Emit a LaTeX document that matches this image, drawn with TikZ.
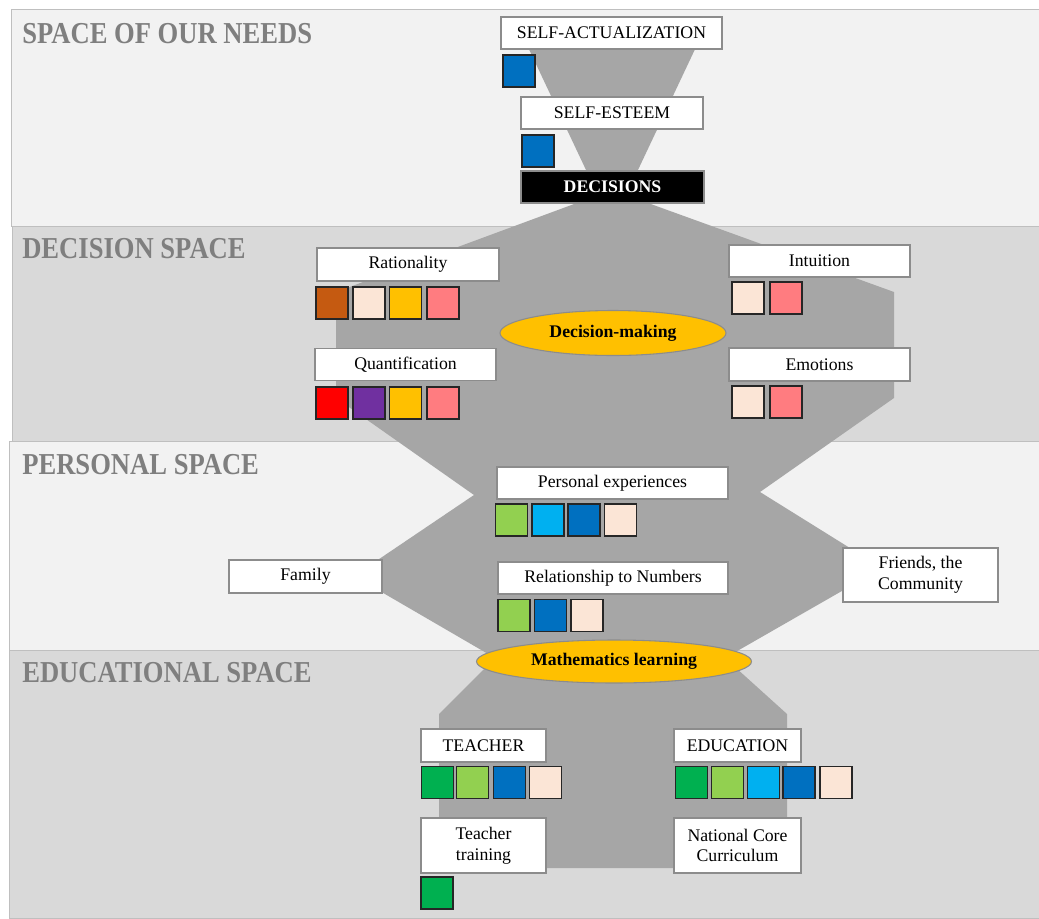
\documentclass[tikz,border=0pt]{standalone}
\usepackage{fontspec}
\usepackage{graphicx}
\setmainfont{Liberation Serif}
\usetikzlibrary{shapes.geometric}

\definecolor{bandlight}{HTML}{F2F2F2}
\definecolor{banddark}{HTML}{D9D9D9}
\definecolor{bandedge}{HTML}{BFBFBF}
\definecolor{funnel}{HTML}{A6A6A6}
\definecolor{titlegrey}{HTML}{7F7F7F}
\definecolor{boxedge}{HTML}{8C8C8C}
\definecolor{sqedge}{HTML}{262626}
\definecolor{cBrown}{HTML}{C55A11}
\definecolor{cPeach}{HTML}{FBE5D6}
\definecolor{cGold}{HTML}{FFC000}
\definecolor{cSalmon}{HTML}{FF7C80}
\definecolor{cRed}{HTML}{FF0000}
\definecolor{cPurple}{HTML}{7030A0}
\definecolor{cLime}{HTML}{92D050}
\definecolor{cSky}{HTML}{00B0F0}
\definecolor{cBlue}{HTML}{0070C0}
\definecolor{cGreen}{HTML}{00B050}

\newcommand{\bodysize}{\fontsize{13.3pt}{15.5pt}\selectfont}
\newcommand{\spacetitle}[1]{\scalebox{0.875}[1]{\fontsize{22.8pt}{24pt}\selectfont\bfseries #1}}

\begin{document}
\begin{tikzpicture}[x=0.75pt,y=-0.75pt,
  band/.style={draw=bandedge,line width=0.5pt},
  spacelabel/.style={anchor=base west,inner sep=0pt,text=titlegrey},
  lbl/.style n args={2}{draw=boxedge,fill=white,line width=1.1pt,inner sep=0pt,
    minimum width=#1*0.75pt,minimum height=#2*0.75pt,font=\bodysize,align=center},
  darklbl/.style n args={2}{draw=boxedge,fill=black,text=white,line width=1.1pt,inner sep=0pt,
    minimum width=#1*0.75pt,minimum height=#2*0.75pt,font=\bodysize\bfseries},
  hub/.style n args={2}{ellipse,draw=boxedge,fill=cGold,line width=0.8pt,inner sep=0pt,
    minimum width=#1*0.75pt,minimum height=#2*0.75pt,font=\bodysize\bfseries},
  sq/.style={draw=sqedge,fill=#1,line width=1.1pt,inner sep=0pt,
    minimum width=32*0.75pt,minimum height=32*0.75pt}]

\useasboundingbox (0,0) rectangle (1039,918);

% horizontal spaces
\filldraw[band,fill=bandlight] (11,9)   rectangle (1039,226);
\filldraw[band,fill=banddark]  (12,226) rectangle (1039,441);
\filldraw[band,fill=bandlight] (9,441)  rectangle (1039,650);
\filldraw[band,fill=banddark]  (9,650)  rectangle (1039,918);

\node[spacelabel] (tNeeds)    at (22,43)  {\spacetitle{SPACE OF OUR NEEDS}};
\node[spacelabel] (tDecision) at (22,258) {\spacetitle{DECISION SPACE}};
\node[spacelabel] (tPersonal) at (22,474) {\spacetitle{PERSONAL SPACE}};
\node[spacelabel] (tEdu)      at (22,682) {\spacetitle{EDUCATIONAL SPACE}};

% grey funnel and hourglass body
\fill[funnel] (527,45) -- (697,45) -- (612,225) -- cycle;
\fill[funnel] (612,190) -- (894,292) -- (894,398) -- (760,492) -- (882,568)
  -- (725,658) -- (787,714) -- (787,868) -- (439,868) -- (439,714)
  -- (495,658) -- (354,576) -- (474,495) -- (336,398) -- (336,292) -- cycle;

% space of our needs
\node[lbl={221}{32}] (selfact) at (611.5,33) {SELF-ACTUALIZATION};
\node[sq=cBlue] (sa1) at (519,71) {};
\node[lbl={182}{32}] (selfest) at (612,113) {SELF-ESTEEM};
\node[sq=cBlue] (se1) at (538,151) {};
\node[darklbl={183}{32}] (decisions) at (612.5,187) {DECISIONS};

% decision space
\node[lbl={182}{33}] (ratio) at (408,264.5) {Rationality};
\node[sq=cBrown]  (ra1) at (332,303) {};
\node[sq=cPeach]  (ra2) at (369,303) {};
\node[sq=cGold]   (ra3) at (405.5,303) {};
\node[sq=cSalmon] (ra4) at (443,303) {};

\node[lbl={181}{32}] (quant) at (405.5,364.5) {Quantification};
\node[sq=cRed]    (qu1) at (332,403) {};
\node[sq=cPurple] (qu2) at (369,403) {};
\node[sq=cGold]   (qu3) at (405.5,403) {};
\node[sq=cSalmon] (qu4) at (443,403) {};

\node[lbl={181}{32}] (intu) at (819.5,261) {Intuition};
\node[sq=cPeach]  (in1) at (748,298) {};
\node[sq=cSalmon] (in2) at (786,298) {};

\node[lbl={181}{33}] (emo) at (819.5,364.5) {Emotions};
\node[sq=cPeach]  (em1) at (748,402) {};
\node[sq=cSalmon] (em2) at (786,402) {};

\node[hub={226}{45}] (dmaking) at (613,333) {Decision-making};

% personal space
\node[lbl={231}{32}] (pexp) at (612.5,483) {Personal experiences};
\node[sq=cLime]  (pe1) at (511.5,520) {};
\node[sq=cSky]   (pe2) at (548,520) {};
\node[sq=cBlue]  (pe3) at (584,520) {};
\node[sq=cPeach] (pe4) at (620.5,520) {};

\node[lbl={153}{33}] (family) at (305.5,576.5) {Family};

\node[lbl={230}{32}] (relnum) at (613,578) {Relationship to Numbers};
\node[sq=cLime]  (rn1) at (514,615.5) {};
\node[sq=cBlue]  (rn2) at (550.5,615.5) {};
\node[sq=cPeach] (rn3) at (587,615.5) {};

\node[lbl={155}{54}] (friends) at (920.5,575) {Friends, the\\Community};

% educational space
\node[hub={275}{43}] (mlearn) at (614,661.5) {Mathematics learning};

\node[lbl={125}{33}] (teacher) at (483.5,745.5) {TEACHER};
\node[sq=cGreen] (te1) at (437.5,782.5) {};
\node[sq=cLime]  (te2) at (472.5,782.5) {};
\node[sq=cBlue]  (te3) at (509.5,782.5) {};
\node[sq=cPeach] (te4) at (545.5,782.5) {};

\node[lbl={127}{33}] (educ) at (737.5,745.5) {EDUCATION};
\node[sq=cGreen] (ed1) at (691.5,782.5) {};
\node[sq=cLime]  (ed2) at (727.5,782.5) {};
\node[sq=cSky]   (ed3) at (763.5,782.5) {};
\node[sq=cBlue]  (ed4) at (799,782.5) {};
\node[sq=cPeach] (ed5) at (836,782.5) {};

\node[lbl={125}{55}] (ttrain) at (483.5,845.5) {Teacher\\training};
\node[sq=cGreen] (tt1) at (437,893) {};

\node[lbl={127}{55}] (ncc) at (737.5,845.5) {National Core\\Curriculum};

\end{tikzpicture}
\end{document}
